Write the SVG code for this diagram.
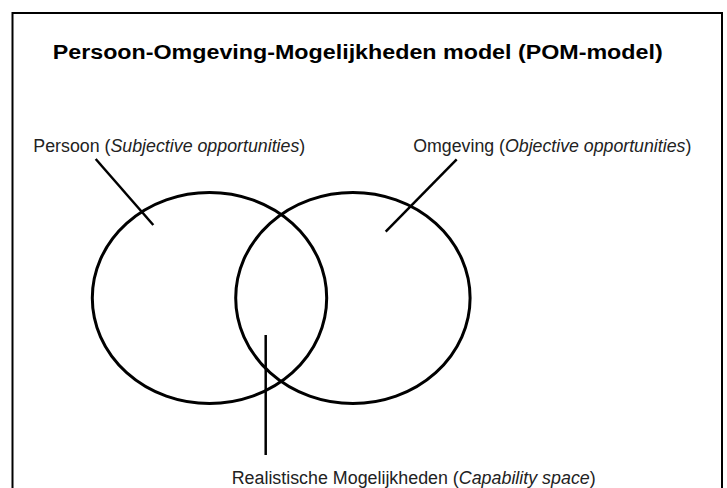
<svg xmlns="http://www.w3.org/2000/svg" width="727" height="488" viewBox="0 0 727 488">
<style>
.t{font-family:"Liberation Sans",Arial,sans-serif;font-size:18px;fill:#222}
.ttl{font-family:"Liberation Sans",Arial,sans-serif;font-size:20px;font-weight:bold;fill:#000}
.sh{fill:none;stroke:#000;stroke-width:3}
.ln{stroke:#000;stroke-width:2.5;fill:none}
</style>
<rect x="0" y="0" width="727" height="488" fill="#fff"/>
<rect x="12.5" y="13" width="709.5" height="490" fill="none" stroke="#000" stroke-width="2"/>
<g id="title"><text class="ttl" x="52.7" y="59.3" textLength="610" lengthAdjust="spacingAndGlyphs">Persoon-Omgeving-Mogelijkheden model (POM-model)</text></g>
<g id="persoon">
<ellipse class="sh" cx="209.5" cy="298" rx="117.2" ry="105.5"/>
<text class="t" x="33.3" y="152.3" textLength="272" lengthAdjust="spacingAndGlyphs">Persoon (<tspan font-style="italic">Subjective opportunities</tspan>)</text>
</g>
<g id="omgeving">
<ellipse class="sh" cx="352.9" cy="298" rx="117.2" ry="105.5"/>
<text class="t" x="413.3" y="152.3" textLength="278" lengthAdjust="spacingAndGlyphs">Omgeving  (<tspan font-style="italic">Objective opportunities</tspan>)</text>
</g>
<g id="realistisch">
<text class="t" x="231.7" y="484.3" textLength="364" lengthAdjust="spacingAndGlyphs">Realistische Mogelijkheden  (<tspan font-style="italic">Capability space</tspan>)</text>
</g>
<g id="connectors">
<line class="ln" x1="95.7" y1="159" x2="153.3" y2="225"/>
<line class="ln" x1="456.7" y1="159.3" x2="385.7" y2="231.7"/>
<line class="ln" x1="265.7" y1="335" x2="265.7" y2="455"/>
</g>
</svg>
